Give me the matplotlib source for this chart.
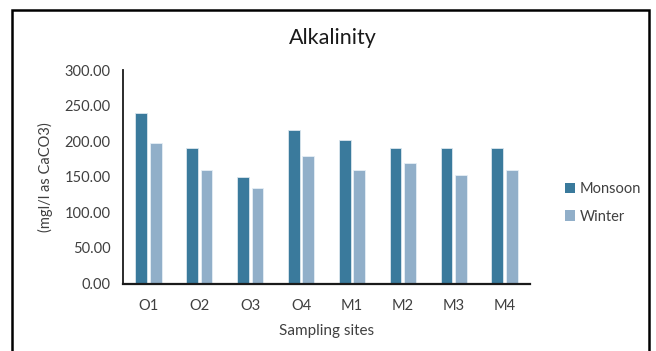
import matplotlib
matplotlib.use("Agg")
import matplotlib.pyplot as plt
from matplotlib.patches import Rectangle, Patch
import numpy as np

plt.rcParams['font.family'] = ['Lato', 'DejaVu Sans']

sites = ["O1", "O2", "O3", "O4", "M1", "M2", "M3", "M4"]
monsoon = [240, 190, 150, 215, 202, 190, 190, 190]
winter = [197, 160, 134, 179, 160, 169, 152, 160]
yticks = [0, 50, 100, 150, 200, 250, 300]

c_monsoon = "#3A7A9C"
c_winter = "#91AFC9"
text_col = "#404040"

W, H = 656, 351
fig = plt.figure(figsize=(W / 100, H / 100), dpi=100)
ax = fig.add_axes([123 / W, 1 - 283.5 / H, (530 - 123) / W, (283.5 - 70) / H])

x = np.arange(len(sites))
bw = 0.23
off = 0.1425
ax.bar(x - off, monsoon, bw, color=c_monsoon, edgecolor="#dbe6ee", linewidth=0.6, label="Monsoon")
ax.bar(x + off, winter, bw, color=c_winter, edgecolor="#e6eef5", linewidth=0.6, label="Winter")

ax.set_xlim(-0.5, len(sites) - 0.5)
ax.set_ylim(0, 300)
ax.set_yticks(yticks)
ax.set_yticklabels([f"{v:.2f}" for v in yticks])
ax.set_xticks(x)
ax.set_xticklabels(sites)
ax.tick_params(axis="both", length=0, labelsize=10.5, colors=text_col)
ax.tick_params(axis="y", pad=9)
ax.tick_params(axis="x", pad=11)

for s in ["top", "right"]:
    ax.spines[s].set_visible(False)
ax.spines["left"].set_linewidth(1.3)
ax.spines["bottom"].set_linewidth(1.6)
ax.spines["left"].set_color("#1a1a1a")
ax.spines["bottom"].set_color("#1a1a1a")

ax.set_xlabel("Sampling sites", fontsize=11, color=text_col, labelpad=8)
ax.set_ylabel("(mgl/l as CaCO3)", fontsize=10.5, color=text_col, labelpad=8)

fig.text(333 / W, 1 - 38 / H, "Alkalinity", ha="center", va="center", fontsize=15.5, color="#1a1a1a")

handles = [Patch(facecolor=c_monsoon, label="Monsoon"), Patch(facecolor=c_winter, label="Winter")]
fig.legend(handles=handles, loc="center left", bbox_to_anchor=(552 / W, 1 - 203 / H),
           frameon=False, fontsize=10.5, handlelength=0.7, handleheight=0.7,
           handletextpad=0.3, labelspacing=0.9, labelcolor=text_col)

# outer chart frame
fig.add_artist(Rectangle((12 / W, -0.05), (649 - 12) / W, 1.05 - 10 / H,
                         transform=fig.transFigure, fill=False, edgecolor="black",
                         linewidth=1.8, clip_on=False))

fig.savefig("out.png", dpi=100)
